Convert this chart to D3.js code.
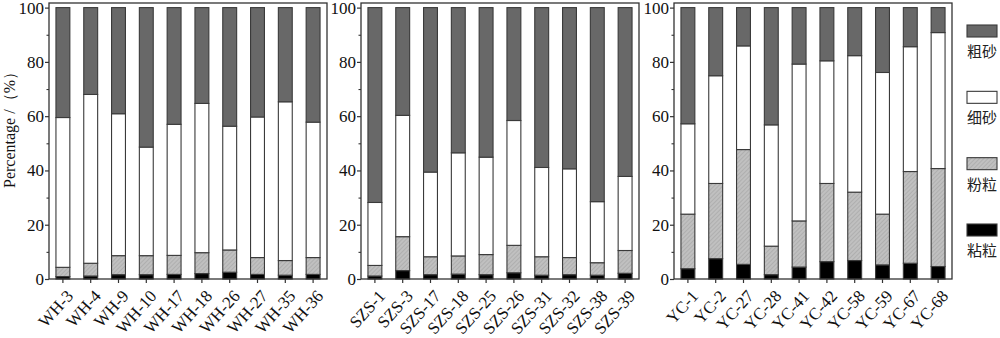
<!DOCTYPE html>
<html>
<head>
<meta charset="utf-8">
<script src="https://cdn.jsdelivr.net/npm/d3@7"></script>
<style>
  body { margin: 0; background: #fff; }
  svg { display: block; }
  .tick text { font-family: "Liberation Serif", "Times New Roman", serif; }
</style>
</head>
<body>
<svg id="chart" width="1000" height="338"></svg>
<script>
// component names (bottom -> top)
const keys = ["粘粒", "粉粒", "细砂", "粗砂"];

const whSamples = ["WH-3", "WH-4", "WH-9", "WH-10", "WH-17", "WH-18", "WH-26", "WH-27", "WH-35", "WH-36"];
const whClay = [0.9, 1.1, 1.6, 1.6, 1.7, 2.0, 2.5, 1.7, 1.4, 1.7];
const whSilt = [3.4, 4.7, 7.0, 7.0, 7.0, 7.7, 8.2, 6.2, 5.4, 6.2];
const whFine = [55.2, 62.2, 52.3, 40.0, 48.3, 55.0, 45.6, 51.8, 58.5, 49.9];
const whCoarse = [40.5, 32.0, 39.1, 51.4, 43.0, 35.3, 43.7, 40.3, 34.7, 42.2];

const szsSamples = ["SZS-1", "SZS-3", "SZS-17", "SZS-18", "SZS-25", "SZS-26", "SZS-31", "SZS-32", "SZS-38", "SZS-39"];
const szsClay = [1.1, 3.1, 1.6, 1.8, 1.6, 2.3, 1.4, 1.6, 1.4, 2.1];
const szsSilt = [3.9, 12.5, 6.6, 6.7, 7.4, 10.1, 6.8, 6.3, 4.6, 8.4];
const szsFine = [23.2, 44.7, 31.2, 38.0, 35.9, 46.0, 32.9, 32.7, 22.5, 27.3];
const szsCoarse = [71.8, 39.7, 60.6, 53.5, 55.1, 41.6, 58.9, 59.4, 71.5, 62.2];

const ycSamples = ["YC-1", "YC-2", "YC-27", "YC-28", "YC-41", "YC-42", "YC-58", "YC-59", "YC-67", "YC-68"];
const ycClay = [3.8, 7.5, 5.4, 1.6, 4.4, 6.4, 6.8, 5.2, 5.8, 4.6];
const ycSilt = [20.1, 27.7, 42.3, 10.5, 17.0, 28.8, 25.2, 18.7, 33.8, 36.1];
const ycFine = [33.3, 39.7, 38.2, 44.7, 57.8, 45.2, 50.3, 52.2, 46.0, 50.1];
const ycCoarse = [42.8, 25.1, 14.1, 43.2, 20.8, 19.6, 17.7, 23.9, 14.4, 9.2];

const majorTicks = [0, 20, 40, 60, 80, 100];
const minorTicks = [10, 30, 50, 70, 90];

const panels = [
  { left: 49, samples: whSamples, cols: [whClay, whSilt, whFine, whCoarse] },
  { left: 361, samples: szsSamples, cols: [szsClay, szsSilt, szsFine, szsCoarse] },
  { left: 674, samples: ycSamples, cols: [ycClay, ycSilt, ycFine, ycCoarse] },
];

const panelW = 278,
  plotTop = 3,
  plotBottom = 279;

const svg = d3.select("#chart");

// hatch pattern for silt
const defs = svg.append("defs");
const pat = defs
  .append("pattern")
  .attr("id", "silt-hatch")
  .attr("patternUnits", "userSpaceOnUse")
  .attr("width", 3)
  .attr("height", 3)
  .attr("patternTransform", "rotate(45)");
pat.append("rect").attr("width", 3).attr("height", 3).attr("fill", "#c0c0c0");
pat.append("line").attr("x1", 0).attr("y1", 0).attr("x2", 0).attr("y2", 3)
  .attr("stroke", "#a4a4a4").attr("stroke-width", 1.2);

const fills = {
  "粘粒": "#000000",
  "粉粒": "url(#silt-hatch)",
  "细砂": "#ffffff",
  "粗砂": "#686868",
};

const y = d3.scaleLinear().domain([0, 101.7]).range([plotBottom, plotTop]);

panels.forEach((p) => {
  const rows = p.samples.map((s, i) => {
    const r = { sample: s };
    keys.forEach((k, j) => (r[k] = p.cols[j][i]));
    return r;
  });
  const series = d3.stack().keys(keys)(rows);

  const x = d3
    .scaleBand()
    .domain(p.samples)
    .range([p.left, p.left + panelW])
    .paddingInner(0.5)
    .paddingOuter(0.25);

  const g = svg.append("g");

  // bars
  g.selectAll("g.layer")
    .data(series)
    .join("g")
    .attr("class", "layer")
    .attr("fill", (d) => fills[d.key])
    .selectAll("rect")
    .data((d) => d)
    .join("rect")
    .attr("x", (d) => x(d.data.sample))
    .attr("y", (d) => y(d[1]))
    .attr("width", x.bandwidth())
    .attr("height", (d) => y(d[0]) - y(d[1]))
    .attr("stroke", "#3a3a3a")
    .attr("stroke-width", 1.1);

  // frame
  g.append("rect")
    .attr("x", p.left)
    .attr("y", plotTop)
    .attr("width", panelW)
    .attr("height", plotBottom - plotTop)
    .attr("fill", "none")
    .attr("stroke", "#333")
    .attr("stroke-width", 1.3);

  // y axis
  const yAxis = g
    .append("g")
    .attr("transform", `translate(${p.left},0)`)
    .call(d3.axisLeft(y).tickValues(majorTicks).tickSize(4).tickPadding(1));
  yAxis.select(".domain").remove();
  yAxis.selectAll("line").attr("stroke", "#333").attr("stroke-width", 1.2);
  yAxis.selectAll("text").attr("font-size", 17).attr("fill", "#111");

  const yMinor = g
    .append("g")
    .attr("transform", `translate(${p.left},0)`)
    .call(d3.axisLeft(y).tickValues(minorTicks).tickSize(2.5).tickFormat(""));
  yMinor.select(".domain").remove();
  yMinor.selectAll("line").attr("stroke", "#333").attr("stroke-width", 1.1);

  // x axis
  const xAxis = g
    .append("g")
    .attr("transform", `translate(0,${plotBottom})`)
    .call(d3.axisBottom(x).tickSize(4).tickSizeOuter(0));
  xAxis.select(".domain").remove();
  xAxis.selectAll("line").attr("stroke", "#333").attr("stroke-width", 1.2);
  xAxis
    .selectAll("text")
    .attr("font-size", 17)
    .attr("fill", "#111")
    .attr("text-anchor", "end")
    .attr("dy", "0")
    .attr("transform", "translate(6,13) rotate(-48)");
});

// y axis title
svg
  .append("text")
  .attr("transform", "translate(15,126) rotate(-90)")
  .attr("text-anchor", "middle")
  .attr("font-family", "'Liberation Serif', 'Times New Roman', serif")
  .attr("font-size", 16)
  .attr("fill", "#111")
  .text("Percentage /（%）");

// legend (top -> bottom)
const legendKeys = keys.slice().reverse();
const ly = d3.scalePoint().domain(legendKeys).range([25, 224]);

const legend = svg
  .append("g")
  .selectAll("g")
  .data(legendKeys)
  .join("g")
  .attr("transform", (d) => `translate(967,${ly(d)})`);

legend
  .append("rect")
  .attr("width", 30)
  .attr("height", 12)
  .attr("fill", (d) => fills[d])
  .attr("stroke", "#3a3a3a")
  .attr("stroke-width", 1.1);

legend
  .append("text")
  .attr("x", 0)
  .attr("y", 32)
  .attr("font-family", "'Noto Sans CJK SC', sans-serif")
  .attr("font-size", 15)
  .attr("fill", "#222")
  .text((d) => d);
</script>
</body>
</html>
